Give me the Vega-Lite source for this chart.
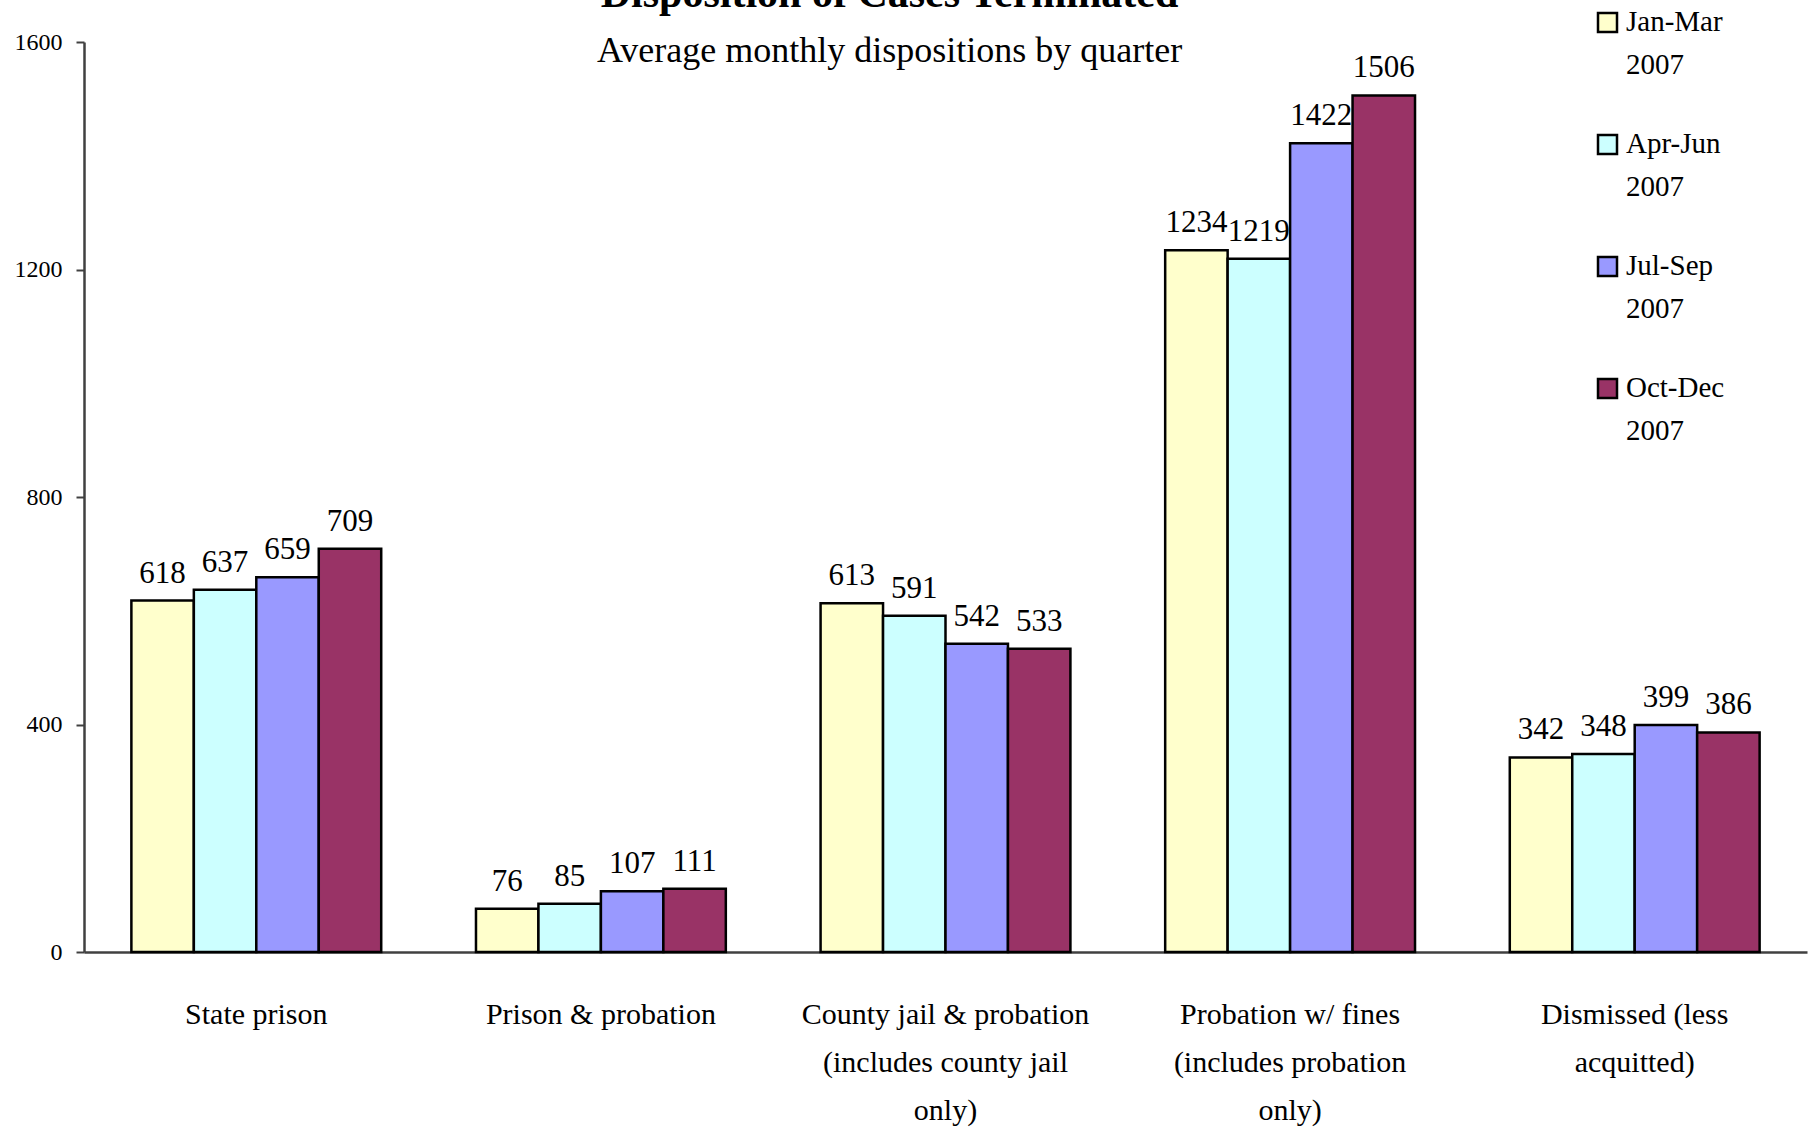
{
  "$schema": "https://vega.github.io/schema/vega-lite/v6.json",
  "autosize": {"type": "none"},
  "width": 1723,
  "height": 910,
  "padding": {"left": 84, "top": 42, "right": 9, "bottom": 181},
  "background": "white",
  "title": {
    "text": "Disposition of Cases Terminated",
    "subtitle": "Average monthly dispositions by quarter",
    "anchor": "middle",
    "dx": -56,
    "offset": -54,
    "font": "Liberation Serif",
    "fontSize": 42,
    "fontWeight": "bold",
    "color": "black",
    "subtitleFont": "Liberation Serif",
    "subtitleFontSize": 36,
    "subtitleColor": "black",
    "subtitlePadding": 18
  },
  "data": {
    "values": [
      {"category": "State prison", "quarter": "Jan-Mar 2007", "value": 618},
      {"category": "State prison", "quarter": "Apr-Jun 2007", "value": 637},
      {"category": "State prison", "quarter": "Jul-Sep 2007", "value": 659},
      {"category": "State prison", "quarter": "Oct-Dec 2007", "value": 709},
      {"category": "Prison & probation", "quarter": "Jan-Mar 2007", "value": 76},
      {"category": "Prison & probation", "quarter": "Apr-Jun 2007", "value": 85},
      {"category": "Prison & probation", "quarter": "Jul-Sep 2007", "value": 107},
      {"category": "Prison & probation", "quarter": "Oct-Dec 2007", "value": 111},
      {"category": "County jail & probation (includes county jail only)", "quarter": "Jan-Mar 2007", "value": 613},
      {"category": "County jail & probation (includes county jail only)", "quarter": "Apr-Jun 2007", "value": 591},
      {"category": "County jail & probation (includes county jail only)", "quarter": "Jul-Sep 2007", "value": 542},
      {"category": "County jail & probation (includes county jail only)", "quarter": "Oct-Dec 2007", "value": 533},
      {"category": "Probation w/ fines (includes probation only)", "quarter": "Jan-Mar 2007", "value": 1234},
      {"category": "Probation w/ fines (includes probation only)", "quarter": "Apr-Jun 2007", "value": 1219},
      {"category": "Probation w/ fines (includes probation only)", "quarter": "Jul-Sep 2007", "value": 1422},
      {"category": "Probation w/ fines (includes probation only)", "quarter": "Oct-Dec 2007", "value": 1506},
      {"category": "Dismissed (less acquitted)", "quarter": "Jan-Mar 2007", "value": 342},
      {"category": "Dismissed (less acquitted)", "quarter": "Apr-Jun 2007", "value": 348},
      {"category": "Dismissed (less acquitted)", "quarter": "Jul-Sep 2007", "value": 399},
      {"category": "Dismissed (less acquitted)", "quarter": "Oct-Dec 2007", "value": 386}
    ]
  },
  "encoding": {
    "x": {
      "field": "category",
      "type": "nominal",
      "sort": null,
      "scale": {"paddingInner": 0.275, "paddingOuter": 0.1375},
      "axis": {
        "title": null,
        "labelAngle": 0,
        "ticks": false,
        "domainColor": "#404040",
        "domainWidth": 2.5,
        "labelFont": "Liberation Serif",
        "labelFontSize": 30,
        "labelColor": "black",
        "labelLineHeight": 48,
        "labelPadding": 47,
        "labelLimit": 400,
        "labelExpr": "datum.label == 'County jail & probation (includes county jail only)' ? ['County jail & probation', '(includes county jail', 'only)'] : datum.label == 'Probation w/ fines (includes probation only)' ? ['Probation w/ fines', '(includes probation', 'only)'] : datum.label == 'Dismissed (less acquitted)' ? ['Dismissed (less', 'acquitted)'] : datum.label"
      }
    },
    "xOffset": {
      "field": "quarter",
      "type": "nominal",
      "sort": ["Jan-Mar 2007", "Apr-Jun 2007", "Jul-Sep 2007", "Oct-Dec 2007"],
      "scale": {"paddingInner": 0, "paddingOuter": 0}
    },
    "y": {
      "field": "value",
      "type": "quantitative",
      "scale": {"domain": [0, 1600], "nice": false},
      "axis": {
        "title": null,
        "values": [0, 400, 800, 1200, 1600],
        "format": "d",
        "grid": false,
        "domainColor": "#404040",
        "domainWidth": 2.5,
        "tickColor": "#404040",
        "tickWidth": 2,
        "tickSize": 8,
        "labelFont": "Liberation Serif",
        "labelFontSize": 24,
        "labelColor": "black",
        "labelPadding": 14
      }
    }
  },
  "layer": [
    {
      "mark": {"type": "bar", "stroke": "black", "strokeWidth": 2.5},
      "encoding": {
        "color": {
          "field": "quarter",
          "type": "nominal",
          "sort": ["Jan-Mar 2007", "Apr-Jun 2007", "Jul-Sep 2007", "Oct-Dec 2007"],
          "scale": {
            "domain": ["Jan-Mar 2007", "Apr-Jun 2007", "Jul-Sep 2007", "Oct-Dec 2007"],
            "range": ["#FFFFCC", "#CCFFFF", "#9999FF", "#993366"]
          },
          "legend": {
            "title": null,
            "orient": "none",
            "legendX": 1509,
            "legendY": -26,
            "symbolType": "M-1,-1.85H1V0.15H-1Z",
            "symbolSize": 361,
            "symbolStrokeColor": "black",
            "symbolStrokeWidth": 2.5,
            "symbolOpacity": 1,
            "labelFont": "Liberation Serif",
            "labelFontSize": 29,
            "labelColor": "black",
            "labelBaseline": "alphabetic",
            "labelOffset": 4,
            "labelExpr": "split(datum.label, ' ')",
            "rowPadding": 49
          }
        }
      }
    },
    {
      "mark": {"type": "text", "baseline": "alphabetic", "dy": -18, "font": "Liberation Serif", "fontSize": 31, "color": "black"},
      "encoding": {
        "text": {"field": "value", "type": "quantitative"}
      }
    }
  ],
  "config": {
    "view": {"stroke": null},
    "style": {"guide-label": {"lineHeight": 43}}
  }
}
